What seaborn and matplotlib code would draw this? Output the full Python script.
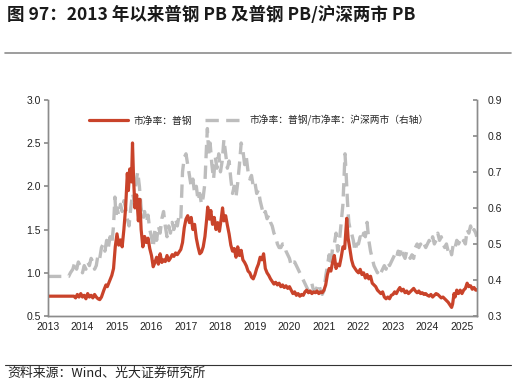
import matplotlib
matplotlib.use("Agg")
import matplotlib.pyplot as plt
from matplotlib.lines import Line2D
import pandas as pd
import seaborn as sns

# 市净率：普钢 (left axis), decimal year
red_x = [2013.00, 2013.40, 2013.75, 2013.80, 2013.85, 2013.90, 2013.95, 2014.00, 2014.05, 2014.10,
         2014.15, 2014.20, 2014.25, 2014.30, 2014.35, 2014.40, 2014.45, 2014.50, 2014.55, 2014.62,
         2014.68, 2014.72, 2014.78, 2014.85, 2014.90, 2014.95, 2015.00, 2015.05, 2015.10, 2015.15,
         2015.20, 2015.25, 2015.30, 2015.33, 2015.37, 2015.42, 2015.45, 2015.48, 2015.52, 2015.57,
         2015.62, 2015.66, 2015.70, 2015.75, 2015.80, 2015.85, 2015.90, 2015.95, 2016.00, 2016.05,
         2016.10, 2016.15, 2016.20, 2016.25, 2016.30, 2016.35, 2016.40, 2016.45, 2016.50, 2016.55,
         2016.60, 2016.65, 2016.70, 2016.75, 2016.80, 2016.85, 2016.90, 2016.95, 2017.00, 2017.05,
         2017.10, 2017.15, 2017.20, 2017.25, 2017.30, 2017.35, 2017.40, 2017.45, 2017.50, 2017.55,
         2017.60, 2017.63, 2017.68, 2017.72, 2017.77, 2017.82, 2017.87, 2017.92, 2017.97, 2018.02,
         2018.06, 2018.10, 2018.15, 2018.20, 2018.25, 2018.30, 2018.35, 2018.40, 2018.45, 2018.50,
         2018.55, 2018.60, 2018.65, 2018.70, 2018.75, 2018.80, 2018.85, 2018.90, 2018.95, 2019.00,
         2019.05, 2019.10, 2019.15, 2019.20, 2019.25, 2019.30, 2019.35, 2019.40, 2019.45, 2019.50,
         2019.55, 2019.60, 2019.65, 2019.70, 2019.75, 2019.80, 2019.85, 2019.90, 2019.95, 2020.00,
         2020.05, 2020.10, 2020.15, 2020.20, 2020.25, 2020.30, 2020.35, 2020.40, 2020.45, 2020.50,
         2020.55, 2020.60, 2020.65, 2020.70, 2020.75, 2020.80, 2020.85, 2020.90, 2020.95, 2021.00,
         2021.05, 2021.10, 2021.15, 2021.20, 2021.25, 2021.30, 2021.35, 2021.40, 2021.45, 2021.50,
         2021.55, 2021.60, 2021.63, 2021.66, 2021.70, 2021.75, 2021.80, 2021.85, 2021.90, 2021.95,
         2022.00, 2022.05, 2022.10, 2022.15, 2022.20, 2022.25, 2022.30, 2022.35, 2022.40, 2022.45,
         2022.50, 2022.55, 2022.60, 2022.65, 2022.70, 2022.75, 2022.80, 2022.85, 2022.90, 2022.95,
         2023.00, 2023.05, 2023.10, 2023.15, 2023.20, 2023.25, 2023.30, 2023.35, 2023.40, 2023.45,
         2023.50, 2023.55, 2023.60, 2023.65, 2023.70, 2023.75, 2023.80, 2023.85, 2023.90, 2023.95,
         2024.00, 2024.05, 2024.10, 2024.15, 2024.20, 2024.25, 2024.30, 2024.35, 2024.40, 2024.45,
         2024.50, 2024.55, 2024.60, 2024.65, 2024.70, 2024.73, 2024.77, 2024.80, 2024.85, 2024.90,
         2024.95, 2025.00, 2025.05, 2025.10, 2025.15, 2025.20, 2025.25, 2025.30, 2025.35, 2025.40,
         2025.43]
red_y = [0.73, 0.73, 0.73, 0.71, 0.75, 0.72, 0.76, 0.72, 0.74, 0.70,
         0.76, 0.72, 0.74, 0.71, 0.75, 0.72, 0.70, 0.69, 0.72, 0.80,
         0.86, 0.84, 0.90, 0.97, 1.05, 1.30, 1.45, 1.32, 1.38, 1.30,
         1.50, 1.75, 2.15, 1.95, 2.20, 2.05, 2.50, 2.10, 1.75, 1.90,
         1.60, 1.85, 1.50, 1.30, 1.42, 1.35, 1.40, 1.28, 1.20, 1.07,
         1.12, 1.18, 1.10, 1.22, 1.12, 1.15, 1.13, 1.20, 1.14, 1.17,
         1.21, 1.19, 1.23, 1.21, 1.24, 1.27, 1.35, 1.52, 1.62, 1.66,
         1.58, 1.64, 1.50, 1.56, 1.40, 1.30, 1.22, 1.24, 1.30, 1.42,
         1.62, 1.76, 1.62, 1.72, 1.56, 1.64, 1.50, 1.58, 1.48, 1.62,
         1.75, 1.60, 1.66, 1.55, 1.45, 1.32, 1.25, 1.28, 1.18, 1.30,
         1.20, 1.26, 1.15, 1.12, 1.08, 1.02, 1.00, 0.95, 0.93, 0.98,
         1.05, 1.10, 1.18, 1.15, 1.22, 1.05, 1.00, 0.97, 0.93, 0.90,
         0.87, 0.89, 0.86, 0.88, 0.84, 0.86, 0.83, 0.85, 0.82, 0.84,
         0.80, 0.76, 0.78, 0.74, 0.76, 0.73, 0.75, 0.74, 0.78, 0.80,
         0.77, 0.79, 0.76, 0.78, 0.77, 0.79, 0.76, 0.78, 0.77, 0.80,
         0.86, 0.98, 1.05, 1.02, 1.12, 1.20, 1.05, 1.10, 1.08, 1.18,
         1.30, 1.28, 1.45, 1.63, 1.40, 1.28, 1.15, 1.08, 1.05, 1.02,
         1.00, 1.04, 0.98, 1.00, 0.94, 0.98, 0.93, 0.96, 0.88, 0.86,
         0.84, 0.80, 0.78, 0.76, 0.78, 0.72, 0.70, 0.72, 0.70, 0.74,
         0.75, 0.78, 0.76, 0.80, 0.83, 0.79, 0.81, 0.77, 0.79, 0.76,
         0.78, 0.80, 0.82, 0.79, 0.77, 0.79, 0.76, 0.77, 0.75, 0.76,
         0.74, 0.73, 0.75, 0.72, 0.74, 0.76, 0.75, 0.73, 0.71, 0.72,
         0.70, 0.68, 0.66, 0.63, 0.60, 0.64, 0.76, 0.72, 0.80, 0.76,
         0.80, 0.76, 0.80, 0.82, 0.88, 0.84, 0.85, 0.81, 0.83, 0.80,
         0.80]

# 市净率：普钢/市净率：沪深两市 (right axis)
gray_x = [2013.00, 2013.55, 2013.60, 2013.65, 2013.72, 2013.78, 2013.83, 2013.88, 2013.93, 2014.00,
          2014.05, 2014.10, 2014.15, 2014.20, 2014.25, 2014.30, 2014.35, 2014.40, 2014.45, 2014.50,
          2014.55, 2014.60, 2014.65, 2014.70, 2014.75, 2014.80, 2014.85, 2014.90, 2014.94, 2014.97,
          2015.00, 2015.05, 2015.10, 2015.15, 2015.20, 2015.25, 2015.30, 2015.35, 2015.40, 2015.45,
          2015.50, 2015.55, 2015.60, 2015.65, 2015.70, 2015.75, 2015.80, 2015.85, 2015.90, 2015.95,
          2016.00, 2016.05, 2016.10, 2016.15, 2016.20, 2016.25, 2016.30, 2016.35, 2016.40, 2016.45,
          2016.50, 2016.55, 2016.60, 2016.65, 2016.70, 2016.75, 2016.80, 2016.85, 2016.90, 2016.95,
          2017.00, 2017.05, 2017.10, 2017.15, 2017.20, 2017.25, 2017.30, 2017.35, 2017.40, 2017.45,
          2017.50, 2017.55, 2017.59, 2017.62, 2017.66, 2017.70, 2017.75, 2017.80, 2017.85, 2017.90,
          2017.95, 2018.00, 2018.05, 2018.10, 2018.15, 2018.20, 2018.25, 2018.30, 2018.35, 2018.40,
          2018.45, 2018.50, 2018.55, 2018.60, 2018.65, 2018.70, 2018.75, 2018.80, 2018.85, 2018.90,
          2018.95, 2019.00, 2019.05, 2019.10, 2019.15, 2019.20, 2019.25, 2019.30, 2019.35, 2019.40,
          2019.45, 2019.50, 2019.55, 2019.60, 2019.65, 2019.70, 2019.75, 2019.80, 2019.85, 2019.90,
          2019.95, 2020.00, 2020.05, 2020.10, 2020.15, 2020.20, 2020.25, 2020.30, 2020.35, 2020.40,
          2020.45, 2020.50, 2020.55, 2020.60, 2020.65, 2020.70, 2020.75, 2020.80, 2020.85, 2020.90,
          2020.95, 2021.00, 2021.05, 2021.10, 2021.15, 2021.20, 2021.25, 2021.30, 2021.35, 2021.40,
          2021.45, 2021.50, 2021.55, 2021.58, 2021.61, 2021.64, 2021.68, 2021.72, 2021.76, 2021.80,
          2021.85, 2021.90, 2021.95, 2022.00, 2022.05, 2022.10, 2022.15, 2022.20, 2022.25, 2022.30,
          2022.35, 2022.40, 2022.45, 2022.50, 2022.55, 2022.60, 2022.65, 2022.70, 2022.75, 2022.80,
          2022.85, 2022.90, 2022.95, 2023.00, 2023.05, 2023.10, 2023.15, 2023.20, 2023.25, 2023.30,
          2023.35, 2023.40, 2023.45, 2023.50, 2023.55, 2023.60, 2023.65, 2023.70, 2023.75, 2023.80,
          2023.85, 2023.90, 2023.95, 2024.00, 2024.05, 2024.10, 2024.15, 2024.20, 2024.25, 2024.30,
          2024.35, 2024.40, 2024.45, 2024.50, 2024.55, 2024.60, 2024.65, 2024.70, 2024.75, 2024.80,
          2024.85, 2024.90, 2024.95, 2025.00, 2025.05, 2025.10, 2025.15, 2025.20, 2025.25, 2025.30,
          2025.35, 2025.40, 2025.43]
gray_y = [0.41, 0.41, 0.41, 0.42, 0.43, 0.45, 0.43, 0.45, 0.44, 0.42,
          0.44, 0.43, 0.45, 0.44, 0.46, 0.45, 0.43, 0.44, 0.47, 0.46,
          0.49, 0.50, 0.48, 0.51, 0.49, 0.52, 0.50, 0.55, 0.63, 0.58,
          0.60, 0.58, 0.61, 0.59, 0.62, 0.60, 0.57, 0.55, 0.60, 0.64,
          0.62, 0.67, 0.70, 0.66, 0.60, 0.57, 0.59, 0.56, 0.58, 0.54,
          0.52, 0.49, 0.54, 0.51, 0.55, 0.53, 0.57, 0.59, 0.55, 0.52,
          0.55, 0.53, 0.56, 0.54, 0.57, 0.55, 0.58, 0.57, 0.70, 0.74,
          0.75, 0.72, 0.69, 0.66, 0.68, 0.64, 0.66, 0.62, 0.64, 0.61,
          0.63, 0.67, 0.76, 0.82, 0.75, 0.78, 0.72, 0.68, 0.74, 0.71,
          0.75, 0.70, 0.73, 0.79, 0.75, 0.71, 0.73, 0.68, 0.64, 0.66,
          0.63, 0.67, 0.72, 0.78, 0.76, 0.72, 0.74, 0.70, 0.68, 0.69,
          0.66, 0.67, 0.64, 0.65, 0.62, 0.60, 0.58, 0.59, 0.57, 0.58,
          0.56, 0.55, 0.53, 0.52, 0.50, 0.49, 0.49, 0.50, 0.50, 0.48,
          0.47, 0.46, 0.44, 0.45, 0.45, 0.44, 0.43, 0.42, 0.41, 0.40,
          0.39, 0.38, 0.37, 0.38, 0.39, 0.37, 0.37, 0.38, 0.39, 0.37,
          0.36, 0.37, 0.41, 0.44, 0.47, 0.44, 0.49, 0.50, 0.53, 0.48,
          0.51, 0.56, 0.61, 0.68, 0.75, 0.70, 0.62, 0.56, 0.54, 0.53,
          0.51, 0.48, 0.50, 0.50, 0.52, 0.51, 0.53, 0.52, 0.56, 0.51,
          0.48, 0.46, 0.44, 0.43, 0.42, 0.43, 0.42, 0.43, 0.44, 0.43,
          0.45, 0.44, 0.45, 0.46, 0.47, 0.46, 0.48, 0.47, 0.49, 0.47,
          0.46, 0.48, 0.47, 0.46, 0.47, 0.46, 0.49, 0.50, 0.49, 0.50,
          0.49, 0.50, 0.49, 0.50, 0.51, 0.50, 0.52, 0.50, 0.51, 0.53,
          0.51, 0.52, 0.50, 0.49, 0.50, 0.48, 0.49, 0.47, 0.50, 0.49,
          0.51, 0.50, 0.51, 0.50, 0.51, 0.50, 0.54, 0.53, 0.55, 0.53,
          0.54, 0.53, 0.52]

year_ticks = list(range(2013, 2026))
left_ticks = [0.5, 1.0, 1.5, 2.0, 2.5, 3.0]
right_ticks = [0.3, 0.4, 0.5, 0.6, 0.7, 0.8, 0.9]

red_color = "#C9432A"
gray_color = "#BDBDBD"
axis_color = "#8C8C8C"

sns.set_theme(style="white")
plt.rcParams["font.family"] = ["Liberation Sans", "Noto Sans CJK SC", "DejaVu Sans"]

df_red = pd.DataFrame({"x": red_x, "y": red_y})
df_gray = pd.DataFrame({"x": gray_x, "y": gray_y})

fig = plt.figure(figsize=(5.16, 3.85), dpi=100)
ax = fig.add_axes([0.093, 0.179, 0.831, 0.562])
ax2 = ax.twinx()

gray_dash = (0, (4, 2.2))
sns.lineplot(data=df_gray, x="x", y="y", ax=ax2, color=gray_color, linewidth=2.4,
             linestyle=gray_dash, estimator=None)
sns.lineplot(data=df_red, x="x", y="y", ax=ax, color=red_color, linewidth=2.3, estimator=None)

ax.set_zorder(ax2.get_zorder() + 1)
ax.patch.set_visible(False)

ax.set_xlim(2013, 2025.43)
ax.set_ylim(0.5, 3.0)
ax2.set_ylim(0.3, 0.9)
ax.set_xticks(year_ticks)
ax.set_xticklabels([str(y) for y in year_ticks])
ax.set_yticks(left_ticks)
ax.set_yticklabels([f"{v:.1f}" for v in left_ticks])
ax2.set_yticks(right_ticks)
ax2.set_yticklabels([f"{v:.1f}" for v in right_ticks])
for a in (ax, ax2):
    a.set_xlabel("")
    a.set_ylabel("")
    a.grid(False)
    a.spines["top"].set_visible(False)
    for side in ("left", "right", "bottom"):
        a.spines[side].set_color(axis_color)
        a.spines[side].set_linewidth(1.0)

ax.tick_params(axis="x", direction="in", length=3, color=axis_color, labelsize=7.5,
               labelcolor="#222222", pad=4)
ax.tick_params(axis="y", direction="out", length=3, color=axis_color, labelsize=7.5,
               labelcolor="#222222", pad=2, left=True)
ax2.tick_params(axis="y", direction="in", length=3, color=axis_color, labelsize=7.5,
                labelcolor="#222222", pad=8, right=True)

handles = [Line2D([0], [0], color=red_color, linewidth=2.3),
           Line2D([0], [0], color=gray_color, linewidth=2.4, linestyle=gray_dash)]
labels = ["市净率：普钢", "市净率：普钢/市净率：沪深两市（右轴）"]
ax.legend(handles, labels, loc="upper left", bbox_to_anchor=(0.075, 0.97), ncol=2,
          frameon=False, handlelength=4.0, columnspacing=1.3, handletextpad=0.6,
          prop={"family": ["Noto Sans CJK SC"], "size": 7})

fig.text(0.014, 0.96, "图 97：2013 年以来普钢 PB 及普钢 PB/沪深两市 PB", fontsize=12.6,
         fontweight="bold", color="#1A1A1A", family=["Noto Sans CJK SC", "DejaVu Sans"],
         ha="left", va="center")
fig.add_artist(Line2D([0.01, 0.99], [0.862, 0.862], color="#8C8C8C", linewidth=1.2))
fig.add_artist(Line2D([0.01, 0.99], [0.053, 0.053], color="#333333", linewidth=0.8))
fig.text(0.014, 0.03, "资料来源：Wind、光大证券研究所", fontsize=9.3, color="#222222",
         family=["Noto Sans CJK SC", "DejaVu Sans"], ha="left", va="center")

fig.savefig("out.png", dpi=100)
plt.close(fig)
